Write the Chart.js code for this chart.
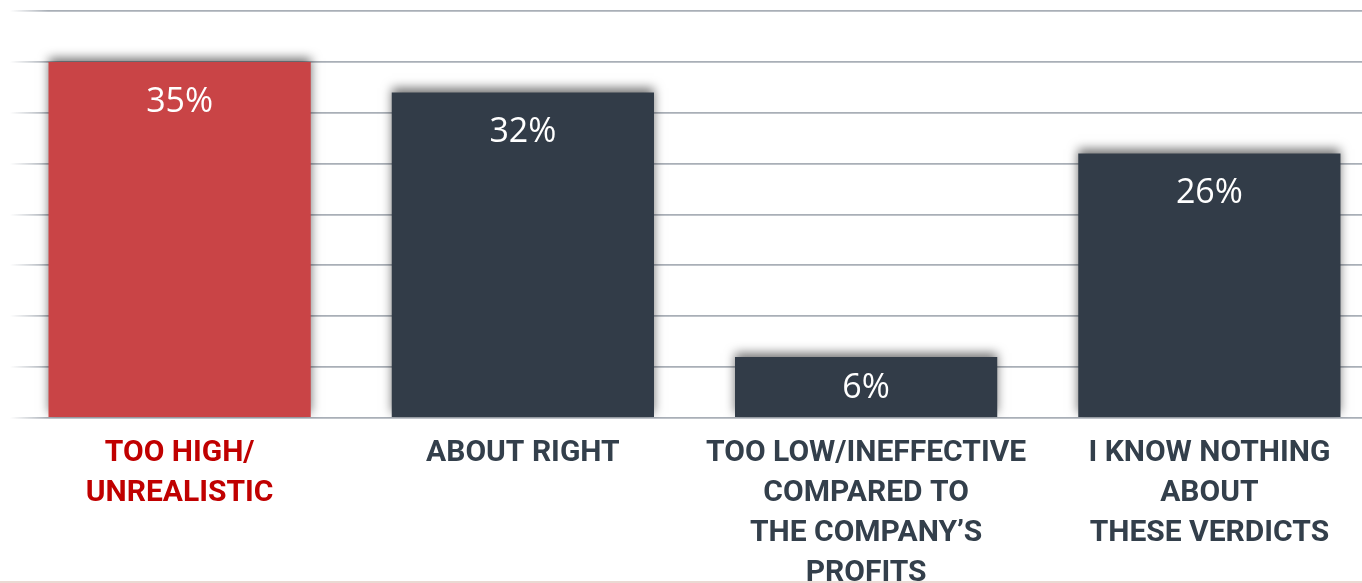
<!DOCTYPE html>
<html>
<head>
<meta charset="utf-8">
<script src="https://cdn.jsdelivr.net/npm/chart.js@4"></script>
<style>
  body { margin: 0; overflow: hidden; background: #fff; }
  #myChart { position: absolute; left: 0; top: 0; }
</style>
</head>
<body>
<canvas id="myChart" width="1390" height="583"></canvas>
<script>
const categories = [
  ['TOO HIGH/', 'UNREALISTIC'],
  ['ABOUT RIGHT'],
  ['TOO LOW/INEFFECTIVE', 'COMPARED TO', 'THE COMPANY\u2019S', 'PROFITS'],
  ['I KNOW NOTHING', 'ABOUT', 'THESE VERDICTS'],
];
const values = [35, 32, 6, 26];
const barColors = ['#c94446', '#323c48', '#323c48', '#323c48'];
const labelColors = ['#c00000', '#333f4b', '#333f4b', '#333f4b'];

// soft shadow behind the bars
const barShadow = {
  id: 'barShadow',
  beforeDatasetsDraw(chart) {
    const c = chart.ctx;
    c.save();
    c.shadowColor = 'rgba(0,0,0,0.55)';
    c.shadowBlur = 10;
    c.shadowOffsetY = -4;
  },
  afterDatasetsDraw(chart) {
    chart.ctx.restore();
  },
};

// value text inside the bars + thin line along the bottom
const valueLabels = {
  id: 'valueLabels',
  afterDraw(chart) {
    const c = chart.ctx;
    const meta = chart.getDatasetMeta(0);
    c.save();
    c.fillStyle = '#ffffff';
    c.font = '34px "Open Sans", sans-serif';
    c.textAlign = 'center';
    c.textBaseline = 'middle';
    meta.data.forEach((bar, i) => {
      const y = Math.min(bar.y + 40, (bar.y + bar.base) / 2 + 1);
      c.fillText(values[i] + '%', bar.x, y);
    });
    c.strokeStyle = '#ead9d3';
    c.lineWidth = 2;
    c.beginPath();
    c.moveTo(0, 582);
    c.lineTo(chart.width, 582);
    c.stroke();
    c.restore();
  },
};

function gridColor(context) {
  const chart = context.chart;
  const area = chart.chartArea;
  if (!area) return '#a9afb7';
  const g = chart.ctx.createLinearGradient(area.left + 2, 0, area.left + 40, 0);
  g.addColorStop(0, 'rgba(169,175,183,0)');
  g.addColorStop(1, 'rgba(169,175,183,1)');
  return g;
}

const ctx = document.getElementById('myChart');
const mixedChart = new Chart(ctx, {
  type: 'bar',
  data: {
    labels: categories,
    datasets: [{
      data: values,
      backgroundColor: barColors,
      borderWidth: 0,
      categoryPercentage: 1,
      barPercentage: 0.764,
    }],
  },
  options: {
    responsive: false,
    animation: false,
    layout: { padding: { left: 8, right: 9, top: 11, bottom: 0 } },
    plugins: {
      legend: { display: false },
      tooltip: { enabled: false },
    },
    scales: {
      x: {
        grid: { display: false },
        border: { display: false },
        ticks: {
          autoSkip: false,
          maxRotation: 0,
          padding: 8,
          color: (c) => labelColors[c.index],
          font: { family: 'Roboto, "Liberation Sans", sans-serif', size: 30, weight: 'bold', lineHeight: 1.333 },
        },
        afterFit(scale) { scale.height = 165; },
      },
      y: {
        min: 0,
        max: 40,
        ticks: { display: false, stepSize: 5 },
        border: { display: false },
        grid: { color: gridColor, lineWidth: 1.8, drawTicks: false },
        afterFit(scale) { scale.width = 0; },
      },
    },
  },
  plugins: [barShadow, valueLabels],
});
</script>
</body>
</html>
